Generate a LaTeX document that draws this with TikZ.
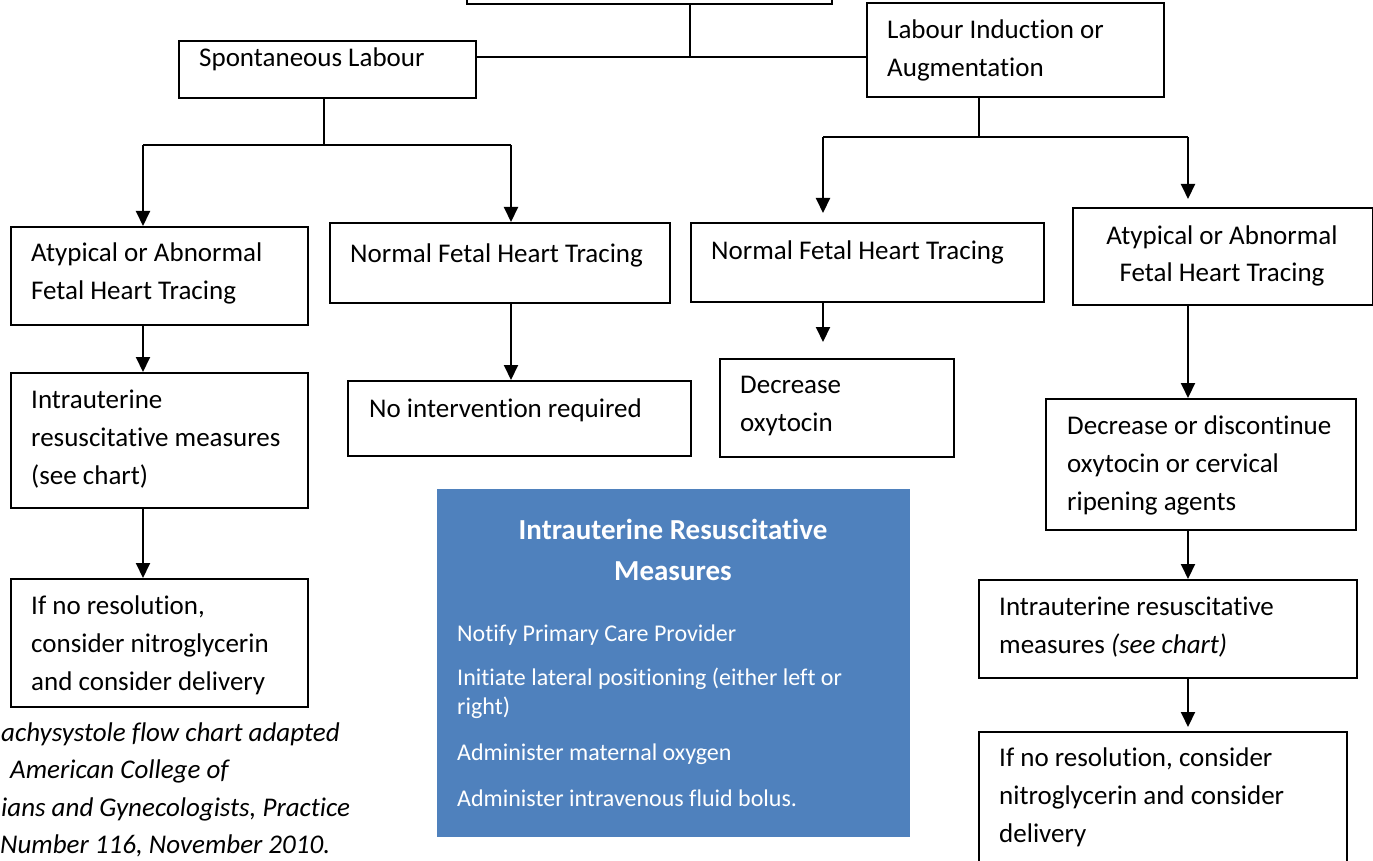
\documentclass[tikz,border=0pt]{standalone}
\usepackage{fontspec}
\setmainfont{Carlito}[Ligatures={NoCommon}]
\usetikzlibrary{arrows.meta}
\definecolor{boxblue}{HTML}{4F81BD}
\tikzset{
  box/.style={draw=black, line width=2pt, inner sep=0pt, anchor=north west},
  txt/.style={inner sep=0pt, anchor=west, align=left, font=\fontsize{27}{38}\selectfont},
  ctxt/.style={inner sep=0pt, align=center, font=\fontsize{27}{37}\selectfont},
  conn/.style={line width=2pt},
  arr/.style={conn, -{Triangle[length=15pt,width=14pt]}},
  note/.style={inner sep=0pt, anchor=west, align=left, font=\fontsize{27}{37.5}\selectfont\itshape},
  btxt/.style={inner sep=0pt, anchor=west, align=left, text=white, font=\fontsize{24}{29}\selectfont},
  btitle/.style={inner sep=0pt, align=center, text=white, font=\fontsize{29}{41}\selectfont\bfseries},
}
\begin{document}
\begin{tikzpicture}[x=1pt,y=-1pt]
\useasboundingbox (0,0) rectangle (1373,861);
% boxes
\node[box, minimum width=365, minimum height=60] (top) at (466,-57) {};
\node[box, minimum width=297, minimum height=57] (sl) at (178,40) {};
\node[box, minimum width=297, minimum height=94] (li) at (866,2) {};
\node[box, minimum width=297, minimum height=98] (a1) at (10,226) {};
\node[box, minimum width=340, minimum height=80] (n1) at (329,222) {};
\node[box, minimum width=353, minimum height=79] (n2) at (690,222) {};
\node[box, minimum width=300, minimum height=97] (a2) at (1072,207) {};
\node[box, minimum width=297, minimum height=135] (i1) at (10,372) {};
\node[box, minimum width=343, minimum height=75] (ni) at (347,380) {};
\node[box, minimum width=234, minimum height=98] (dox) at (719,358) {};
\node[box, minimum width=310, minimum height=131] (dd) at (1045,398) {};
\node[box, minimum width=297, minimum height=128] (r1) at (10,578) {};
\node[box, minimum width=378, minimum height=98] (i2) at (978,579) {};
\node[box, minimum width=368, minimum height=150] (r2) at (978,731) {};
\node[fill=boxblue, inner sep=0pt, anchor=north west, minimum width=473, minimum height=348] (blue) at (437,489) {};
% texts
\node[txt] (tsl) at (199,59) {Spontaneous Labour};
\node[txt] (tli) at (887,50.5) {Labour Induction or\\Augmentation};
\node[txt] (ta1) at (31,273) {Atypical or Abnormal\\Fetal Heart Tracing};
\node[txt] (tn1) at (350,255) {Normal Fetal Heart Tracing};
\node[txt] (tn2) at (711,252) {Normal Fetal Heart Tracing};
\node[ctxt] (ta2) at (1222,255.5) {Atypical or Abnormal\\Fetal Heart Tracing};
\node[txt] (ti1) at (31,439) {Intrauterine\\resuscitative measures\\(see chart)};
\node[txt] (tni) at (369,410) {No intervention required};
\node[txt] (tdox) at (740,406) {Decrease\\oxytocin};
\node[txt] (tdd) at (1067,465.5) {Decrease or discontinue\\oxytocin or cervical\\ripening agents};
\node[txt] (tr1) at (31,645.5) {If no resolution,\\consider nitroglycerin\\and consider delivery};
\node[txt] (ti2) at (999,627) {Intrauterine resuscitative\\measures \textit{(see chart)}};
\node[txt] (tr2) at (999,797.5) {If no resolution, consider\\nitroglycerin and consider\\delivery};
% blue box contents
\node[btitle] (bt) at (673,549.5) {Intrauterine Resuscitative\\Measures};
\node[btxt] (b1) at (457,635) {Notify Primary Care Provider};
\node[btxt] (b2) at (457,693.5) {Initiate lateral positioning (either left or\\right)};
\node[btxt] (b3) at (457,754) {Administer maternal oxygen};
\node[btxt] (b4) at (457,798) {Administer intravenous fluid bolus.};
% note
\node[note] (n1a) at (1,734) {achysystole flow chart adapted};
\node[note] (n1b) at (10,771) {American College of};
\node[note] (n1c) at (1,809) {ians and Gynecologists, Practice};
\node[note] (n1d) at (0,846) {Number 116, November 2010.};
% junction coordinates
\coordinate (j0) at (690,57);
\coordinate (j1) at (324,145);
\coordinate (jl) at (143,145);
\coordinate (jr) at (511,145);
\coordinate (j2) at (979,137);
\coordinate (kl) at (823,137);
\coordinate (kr) at (1188,137);
% connectors
\draw[conn] (j0 |- top.south) -- (j0);
\draw[conn] (sl.east |- j0) -- (li.west |- j0);
\draw[conn] (j1 |- sl.south) -- (j1);
\draw[conn] (jl) -- (jr);
\draw[arr] (jl) -- (jl |- a1.north);
\draw[arr] (jr) -- (jr |- n1.north);
\draw[conn] (j2 |- li.south) -- (j2);
\draw[conn] (kl) -- (kr);
\draw[arr, shorten >=9pt] (kl) -- (kl |- n2.north);
\draw[arr, shorten >=8pt] (kr) -- (kr |- a2.north);
\draw[arr] (jl |- a1.south) -- (jl |- i1.north);
\draw[arr] (jl |- i1.south) -- (jl |- r1.north);
\draw[arr] (jr |- n1.south) -- (jr |- ni.north);
\draw[arr, shorten >=16pt] (kl |- n2.south) -- (kl |- dox.north);
\draw[arr] (kr |- a2.south) -- (kr |- dd.north);
\draw[arr] (kr |- dd.south) -- (kr |- i2.north);
\draw[arr, shorten >=4pt] (kr |- i2.south) -- (kr |- r2.north);
\end{tikzpicture}
\end{document}
